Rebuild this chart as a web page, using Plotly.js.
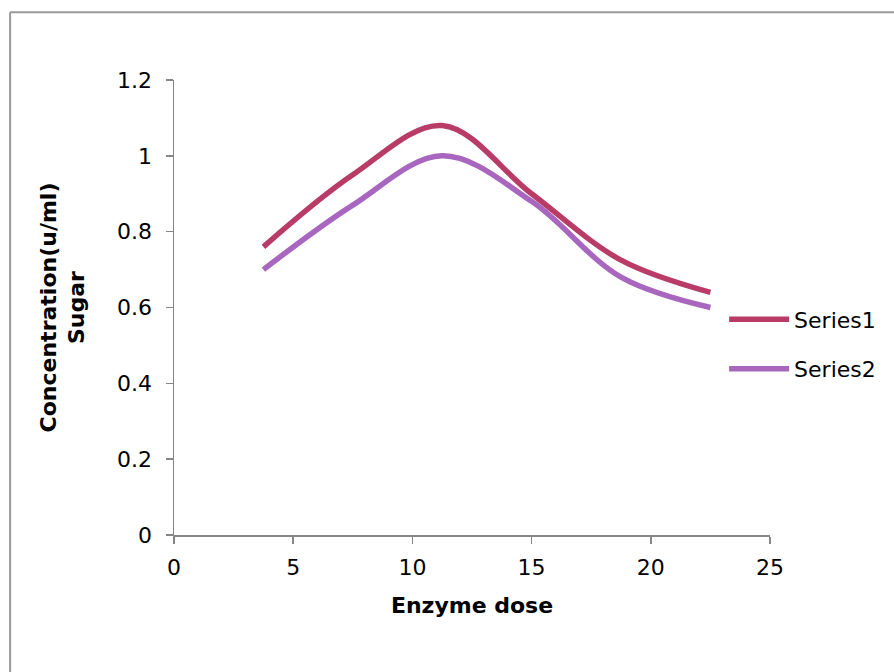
<!DOCTYPE html>
<html>
<head>
<meta charset="utf-8">
<script src="https://cdn.plot.ly/plotly-3.0.1.min.js"></script>
<style>
html,body{margin:0;padding:0;background:#fff;}
#chart{width:894px;height:672px;}
</style>
</head>
<body>
<div id="chart"></div>
<script>
var doses = [3.75, 7.5, 11.25, 15, 18.75, 22.5];
var series1 = [0.76, 0.95, 1.08, 0.90, 0.725, 0.64];
var series2 = [0.70, 0.87, 1.00, 0.88, 0.68, 0.60];
var seriesNames = ['Series1', 'Series2'];
var xTicks = [0, 5, 10, 15, 20, 25];
var yTicks = [0, 0.2, 0.4, 0.6, 0.8, 1, 1.2];
var yTickText = ['0', '0.2', '0.4', '0.6', '0.8', '1', '1.2'];

var FONT = '"DejaVu Sans", sans-serif';

var traces = [
  {x: doses, y: series1, name: seriesNames[0], type: 'scatter', mode: 'lines',
   legendgroup: 'a',
   line: {color: '#B93C66', width: 5.5, shape: 'spline', smoothing: 1}},
  {x: doses, y: series2, name: seriesNames[1], type: 'scatter', mode: 'lines',
   legendgroup: 'b',
   line: {color: '#A966BE', width: 5.5, shape: 'spline', smoothing: 1}}
];

var layout = {
  width: 894, height: 672,
  margin: {l: 174, r: 124, t: 80, b: 137},
  paper_bgcolor: '#fff', plot_bgcolor: '#fff',
  font: {family: FONT, color: '#000', size: 22},
  showlegend: true,
  legend: {x: 0.923, y: 0.52, xanchor: 'left', yanchor: 'top',
           font: {family: FONT, size: 22, color: '#000'},
           traceorder: 'grouped', tracegroupgap: 18, itemwidth: 60,
           bgcolor: 'rgba(0,0,0,0)'},
  xaxis: {
    range: [0, 25], tickvals: xTicks, ticktext: xTicks.map(String),
    showgrid: false, zeroline: false, showline: true,
    linecolor: '#868686', linewidth: 1.5,
    ticks: 'outside', ticklen: 7, tickcolor: '#868686', tickwidth: 1.5,
    ticklabelstandoff: 5,
    tickfont: {family: FONT, size: 22, color: '#000'},
    title: {text: '<b>Enzyme dose</b>', font: {family: FONT, size: 22, color: '#000'}, standoff: 18}
  },
  yaxis: {
    range: [0, 1.2], tickvals: yTicks, ticktext: yTickText,
    showgrid: false, zeroline: false, showline: true,
    linecolor: '#868686', linewidth: 1.5,
    ticks: 'outside', ticklen: 7, tickcolor: '#868686', tickwidth: 1.5,
    ticklabelstandoff: 9,
    tickfont: {family: FONT, size: 22, color: '#000'},
    title: {text: '<b>Concentration(u/ml)<br>Sugar</b>', font: {family: FONT, size: 22, color: '#000'}, standoff: 26}
  },
  shapes: [
    {type: 'line', xref: 'paper', yref: 'paper', x0: -0.275, x1: 1.25, y0: 1.149, y1: 1.149,
     line: {color: '#999', width: 2}},
    {type: 'line', xref: 'paper', yref: 'paper', x0: -0.275, x1: -0.275, y0: 1.149, y1: -0.4,
     line: {color: '#999', width: 2}}
  ]
};

Plotly.newPlot('chart', traces, layout, {displayModeBar: false, staticPlot: true});
</script>
</body>
</html>
